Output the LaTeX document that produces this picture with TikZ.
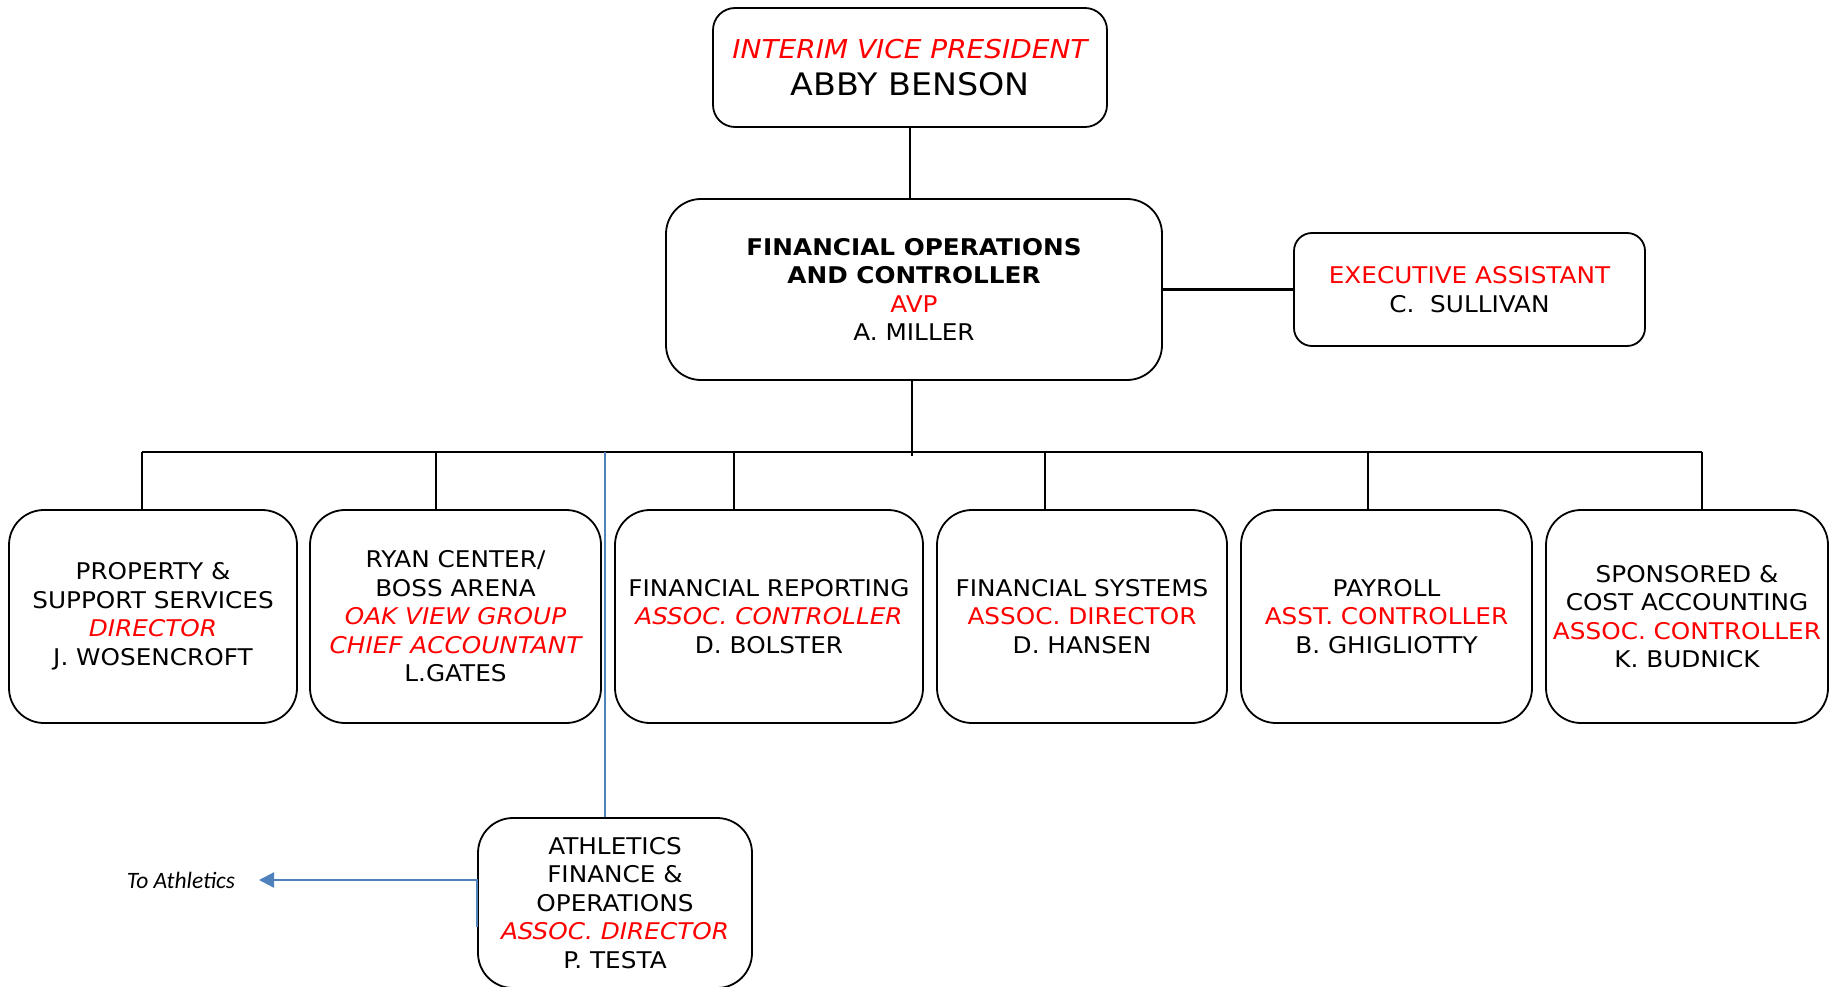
\documentclass[tikz,border=0pt]{standalone}
\usepackage{fontspec}
\setmainfont{DejaVu Sans}[FakeStretch=1.075]
\newfontfamily\notefont{Carlito}
\usepackage{xcolor}
\usetikzlibrary{arrows.meta}

\definecolor{titlered}{RGB}{255,0,0}
\definecolor{linkblue}{RGB}{79,129,189}

\newcommand{\posred}[1]{\textcolor{titlered}{#1}}
\newcommand{\posredit}[1]{\textcolor{titlered}{\itshape #1}}

\tikzset{
  unitbox/.style={draw=black, line width=1.8pt, rounded corners=35pt, align=center,
    minimum width=#1, minimum height=213pt, inner sep=0pt,
    font=\fontsize{23}{28.5}\selectfont},
  orgline/.style={line width=2.6pt},
  linkline/.style={draw=linkblue, line width=2.2pt},
}

\begin{document}
\begin{tikzpicture}[x=1pt,y=-1pt]
\useasboundingbox (0,0) rectangle (1829,987);

% top of the chart
\node[unitbox=394pt, minimum height=119pt, rounded corners=22pt,
  font=\fontsize{31}{36.7}\selectfont] (vp) at (910,67.5)
  {{\fontsize{26}{30}\selectfont\posredit{INTERIM VICE PRESIDENT}}\\ABBY BENSON};
\node[unitbox=496pt, minimum height=181pt] (avp) at (914,289.5)
  {\textbf{FINANCIAL OPERATIONS}\\\textbf{AND CONTROLLER}\\\posred{AVP}\\A. MILLER};
\node[unitbox=351pt, minimum height=113pt, rounded corners=18pt] (exa) at (1469.5,289.5)
  {\posred{EXECUTIVE ASSISTANT}\\C.\ \ SULLIVAN};

% units
\node[unitbox=288pt] (prop) at (153,616.5)
  {PROPERTY \&\\SUPPORT SERVICES\\\posredit{DIRECTOR}\\J. WOSENCROFT};
\node[unitbox=291pt] (ryan) at (455.5,616.5)
  {RYAN CENTER/\\BOSS ARENA\\\posredit{OAK VIEW GROUP}\\\posredit{CHIEF ACCOUNTANT}\\L.GATES};
\node[unitbox=308pt] (frep) at (769,616.5)
  {FINANCIAL REPORTING\\\posredit{ASSOC. CONTROLLER}\\D. BOLSTER};
\node[unitbox=290pt] (fsys) at (1082,616.5)
  {FINANCIAL SYSTEMS\\\posred{ASSOC. DIRECTOR}\\D. HANSEN};
\node[unitbox=291pt] (pay) at (1386.5,616.5)
  {PAYROLL\\\posred{ASST. CONTROLLER}\\B. GHIGLIOTTY};
\node[unitbox=282pt] (spon) at (1687,616.5)
  {SPONSORED \&\\COST ACCOUNTING\\\posred{ASSOC. CONTROLLER}\\K. BUDNICK};

% athletics
\node[unitbox=274pt, minimum height=170pt] (ath) at (615,903)
  {ATHLETICS\\FINANCE \&\\OPERATIONS\\\posredit{ASSOC. DIRECTOR}\\P. TESTA};
\node[font=\notefont\itshape\fontsize{23.5}{28}\selectfont] (toath) at (181,880) {To Athletics};

% connectors
\draw[orgline] (vp.south) -- (vp.south |- avp.north);
\draw[orgline] (avp.east) -- (exa.west);
\coordinate (busW) at (142,452);
\coordinate (busE) at (1702,452);
\coordinate (busM) at (912,456);
\draw[orgline] (busW) -- (busE);
\draw[orgline] (avp.south -| busM) -- (busM);
\foreach \b/\x in {prop/142,ryan/436,frep/734,fsys/1045,pay/1368,spon/1702} {
  \coordinate (drop-\b) at (\x,452);
  \draw[orgline] (drop-\b) -- (drop-\b |- \b.north);
}

\coordinate (athtap) at (605,452);
\coordinate (athtip) at (259,880);
\draw[linkline] (athtap) -- (athtap |- ath.north);
\draw[linkline, -{Triangle[length=15pt,width=15pt]}]
  ([yshift=-24pt]ath.west) -- ([yshift=23pt]ath.west) -- (athtip);
\end{tikzpicture}
\end{document}
